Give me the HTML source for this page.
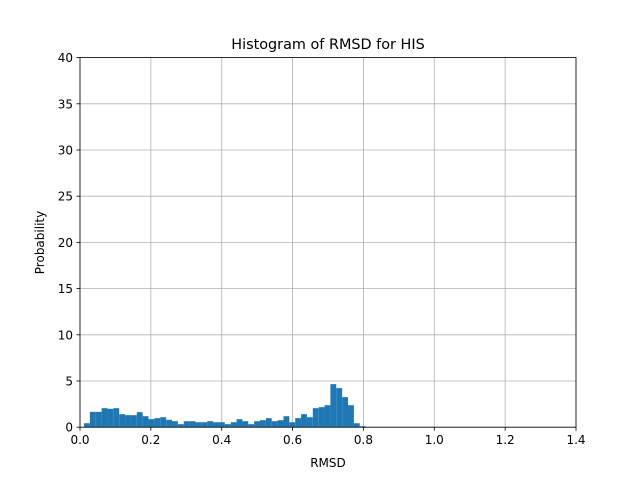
<!DOCTYPE html>
<html><head><meta charset="utf-8"><style>
body{margin:0;background:#fff}
text{font-family:"DejaVu Sans","Liberation Sans",sans-serif;fill:#000}
</style></head><body>
<svg id="chart" width="640" height="480" xmlns="http://www.w3.org/2000/svg">
<rect width="640" height="480" fill="#fff"/>
<g id="grid"></g><g id="bars"></g><g id="axes"></g>
<text x="328" y="49" font-size="14.4" text-anchor="middle">Histogram of RMSD for HIS</text>
<text x="328" y="467" font-size="12" text-anchor="middle">RMSD</text>
<text transform="translate(44,242.5) rotate(-90)" font-size="12" text-anchor="middle">Probability</text>
</svg>
<script>
const binStart = 0.0113;
const binWidth = 0.01656;
const counts = [0.43,1.66,1.66,2.06,1.99,2.06,1.41,1.3,1.3,1.63,1.19,0.87,0.98,1.08,0.8,0.65,0.33,0.65,0.65,0.54,0.54,0.65,0.54,0.54,0.33,0.54,0.87,0.65,0.33,0.65,0.76,0.98,0.65,0.76,1.19,0.54,0.98,1.41,1.08,2.06,2.17,2.38,4.66,4.23,3.25,2.38,0.43,0.11];
const xTicks = [0,0.2,0.4,0.6,0.8,1.0,1.2,1.4];
const xTickLabels = ["0.0","0.2","0.4","0.6","0.8","1.0","1.2","1.4"];
const yTicks = [0,5,10,15,20,25,30,35,40];

const L=80,R=576,T=57.6,B=427.2;
const xs=v=>L+(v-0)/1.4*(R-L);
const ys=v=>B-(v/40)*(B-T);
const NS="http://www.w3.org/2000/svg";
function mk(tag,attrs,parent){const e=document.createElementNS(NS,tag);for(const k in attrs)e.setAttribute(k,attrs[k]);parent.appendChild(e);return e;}
const grid=document.getElementById('grid'),bars=document.getElementById('bars'),axes=document.getElementById('axes');
xTicks.forEach((t,i)=>{
  const x=xs(t);
  const g=mk('line',{x1:x,x2:x,y1:T,y2:B,stroke:'#b0b0b0','stroke-width':0.8},grid);
  
  
  mk('line',{x1:x,x2:x,y1:B,y2:B+3.5,stroke:'#000','stroke-width':0.8},axes);
  const tx=mk('text',{x:x,y:B+17,'font-size':12,'text-anchor':'middle'},axes);
  tx.textContent=xTickLabels[i];
  
  
});
yTicks.forEach(t=>{
  const y=ys(t);
  const g=mk('line',{x1:L,x2:R,y1:y,y2:y,stroke:'#b0b0b0','stroke-width':0.8},grid);
  
  
  mk('line',{x1:L-3.5,x2:L,y1:y,y2:y,stroke:'#000','stroke-width':0.8},axes);
  const tx=mk('text',{x:L-7,y:y+4.5,'font-size':12,'text-anchor':'end'},axes);
  tx.textContent=String(t);
  
  
});
counts.forEach((c,i)=>{
  const x0=xs(binStart+i*binWidth),x1=xs(binStart+(i+1)*binWidth);
  const r=mk('rect',{x:x0,y:ys(c),width:x1-x0,height:B-ys(c),fill:'#1f77b4'},bars);
  
  
});
const fr=mk('rect',{x:L,y:T,width:R-L,height:B-T,fill:'none',stroke:'#000','stroke-width':0.8},axes);


</script>
</body></html>
